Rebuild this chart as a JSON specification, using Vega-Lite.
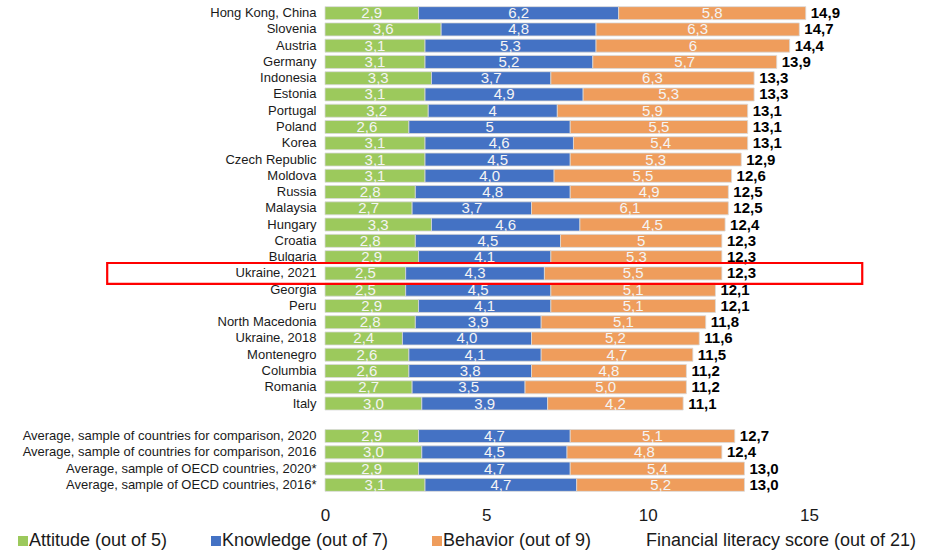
{
  "$schema": "https://vega.github.io/schema/vega-lite/v6.json",
  "width": 484,
  "height": 488,
  "autosize": {"type": "none"},
  "padding": {"left": 325, "top": 5, "right": 125, "bottom": 58},
  "config": {"view": {"stroke": null}, "font": "Liberation Sans"},
  "datasets": {
    "segs": [
      {"c": "Hong Kong, China", "s": "Attitude (out of 5)", "o": 1, "v": 2.9, "t": "2,9"},
      {"c": "Hong Kong, China", "s": "Knowledge (out of 7)", "o": 2, "v": 6.2, "t": "6,2"},
      {"c": "Hong Kong, China", "s": "Behavior (out of 9)", "o": 3, "v": 5.8, "t": "5,8"},
      {"c": "Slovenia", "s": "Attitude (out of 5)", "o": 1, "v": 3.6, "t": "3,6"},
      {"c": "Slovenia", "s": "Knowledge (out of 7)", "o": 2, "v": 4.8, "t": "4,8"},
      {"c": "Slovenia", "s": "Behavior (out of 9)", "o": 3, "v": 6.3, "t": "6,3"},
      {"c": "Austria", "s": "Attitude (out of 5)", "o": 1, "v": 3.1, "t": "3,1"},
      {"c": "Austria", "s": "Knowledge (out of 7)", "o": 2, "v": 5.3, "t": "5,3"},
      {"c": "Austria", "s": "Behavior (out of 9)", "o": 3, "v": 6.0, "t": "6"},
      {"c": "Germany", "s": "Attitude (out of 5)", "o": 1, "v": 3.1, "t": "3,1"},
      {"c": "Germany", "s": "Knowledge (out of 7)", "o": 2, "v": 5.2, "t": "5,2"},
      {"c": "Germany", "s": "Behavior (out of 9)", "o": 3, "v": 5.7, "t": "5,7"},
      {"c": "Indonesia", "s": "Attitude (out of 5)", "o": 1, "v": 3.3, "t": "3,3"},
      {"c": "Indonesia", "s": "Knowledge (out of 7)", "o": 2, "v": 3.7, "t": "3,7"},
      {"c": "Indonesia", "s": "Behavior (out of 9)", "o": 3, "v": 6.3, "t": "6,3"},
      {"c": "Estonia", "s": "Attitude (out of 5)", "o": 1, "v": 3.1, "t": "3,1"},
      {"c": "Estonia", "s": "Knowledge (out of 7)", "o": 2, "v": 4.9, "t": "4,9"},
      {"c": "Estonia", "s": "Behavior (out of 9)", "o": 3, "v": 5.3, "t": "5,3"},
      {"c": "Portugal", "s": "Attitude (out of 5)", "o": 1, "v": 3.2, "t": "3,2"},
      {"c": "Portugal", "s": "Knowledge (out of 7)", "o": 2, "v": 4.0, "t": "4"},
      {"c": "Portugal", "s": "Behavior (out of 9)", "o": 3, "v": 5.9, "t": "5,9"},
      {"c": "Poland", "s": "Attitude (out of 5)", "o": 1, "v": 2.6, "t": "2,6"},
      {"c": "Poland", "s": "Knowledge (out of 7)", "o": 2, "v": 5.0, "t": "5"},
      {"c": "Poland", "s": "Behavior (out of 9)", "o": 3, "v": 5.5, "t": "5,5"},
      {"c": "Korea", "s": "Attitude (out of 5)", "o": 1, "v": 3.1, "t": "3,1"},
      {"c": "Korea", "s": "Knowledge (out of 7)", "o": 2, "v": 4.6, "t": "4,6"},
      {"c": "Korea", "s": "Behavior (out of 9)", "o": 3, "v": 5.4, "t": "5,4"},
      {"c": "Czech Republic", "s": "Attitude (out of 5)", "o": 1, "v": 3.1, "t": "3,1"},
      {"c": "Czech Republic", "s": "Knowledge (out of 7)", "o": 2, "v": 4.5, "t": "4,5"},
      {"c": "Czech Republic", "s": "Behavior (out of 9)", "o": 3, "v": 5.3, "t": "5,3"},
      {"c": "Moldova", "s": "Attitude (out of 5)", "o": 1, "v": 3.1, "t": "3,1"},
      {"c": "Moldova", "s": "Knowledge (out of 7)", "o": 2, "v": 4.0, "t": "4,0"},
      {"c": "Moldova", "s": "Behavior (out of 9)", "o": 3, "v": 5.5, "t": "5,5"},
      {"c": "Russia", "s": "Attitude (out of 5)", "o": 1, "v": 2.8, "t": "2,8"},
      {"c": "Russia", "s": "Knowledge (out of 7)", "o": 2, "v": 4.8, "t": "4,8"},
      {"c": "Russia", "s": "Behavior (out of 9)", "o": 3, "v": 4.9, "t": "4,9"},
      {"c": "Malaysia", "s": "Attitude (out of 5)", "o": 1, "v": 2.7, "t": "2,7"},
      {"c": "Malaysia", "s": "Knowledge (out of 7)", "o": 2, "v": 3.7, "t": "3,7"},
      {"c": "Malaysia", "s": "Behavior (out of 9)", "o": 3, "v": 6.1, "t": "6,1"},
      {"c": "Hungary", "s": "Attitude (out of 5)", "o": 1, "v": 3.3, "t": "3,3"},
      {"c": "Hungary", "s": "Knowledge (out of 7)", "o": 2, "v": 4.6, "t": "4,6"},
      {"c": "Hungary", "s": "Behavior (out of 9)", "o": 3, "v": 4.5, "t": "4,5"},
      {"c": "Croatia", "s": "Attitude (out of 5)", "o": 1, "v": 2.8, "t": "2,8"},
      {"c": "Croatia", "s": "Knowledge (out of 7)", "o": 2, "v": 4.5, "t": "4,5"},
      {"c": "Croatia", "s": "Behavior (out of 9)", "o": 3, "v": 5.0, "t": "5"},
      {"c": "Bulgaria", "s": "Attitude (out of 5)", "o": 1, "v": 2.9, "t": "2,9"},
      {"c": "Bulgaria", "s": "Knowledge (out of 7)", "o": 2, "v": 4.1, "t": "4,1"},
      {"c": "Bulgaria", "s": "Behavior (out of 9)", "o": 3, "v": 5.3, "t": "5,3"},
      {"c": "Ukraine, 2021", "s": "Attitude (out of 5)", "o": 1, "v": 2.5, "t": "2,5"},
      {"c": "Ukraine, 2021", "s": "Knowledge (out of 7)", "o": 2, "v": 4.3, "t": "4,3"},
      {"c": "Ukraine, 2021", "s": "Behavior (out of 9)", "o": 3, "v": 5.5, "t": "5,5"},
      {"c": "Georgia", "s": "Attitude (out of 5)", "o": 1, "v": 2.5, "t": "2,5"},
      {"c": "Georgia", "s": "Knowledge (out of 7)", "o": 2, "v": 4.5, "t": "4,5"},
      {"c": "Georgia", "s": "Behavior (out of 9)", "o": 3, "v": 5.1, "t": "5,1"},
      {"c": "Peru", "s": "Attitude (out of 5)", "o": 1, "v": 2.9, "t": "2,9"},
      {"c": "Peru", "s": "Knowledge (out of 7)", "o": 2, "v": 4.1, "t": "4,1"},
      {"c": "Peru", "s": "Behavior (out of 9)", "o": 3, "v": 5.1, "t": "5,1"},
      {"c": "North Macedonia", "s": "Attitude (out of 5)", "o": 1, "v": 2.8, "t": "2,8"},
      {"c": "North Macedonia", "s": "Knowledge (out of 7)", "o": 2, "v": 3.9, "t": "3,9"},
      {"c": "North Macedonia", "s": "Behavior (out of 9)", "o": 3, "v": 5.1, "t": "5,1"},
      {"c": "Ukraine, 2018", "s": "Attitude (out of 5)", "o": 1, "v": 2.4, "t": "2,4"},
      {"c": "Ukraine, 2018", "s": "Knowledge (out of 7)", "o": 2, "v": 4.0, "t": "4,0"},
      {"c": "Ukraine, 2018", "s": "Behavior (out of 9)", "o": 3, "v": 5.2, "t": "5,2"},
      {"c": "Montenegro", "s": "Attitude (out of 5)", "o": 1, "v": 2.6, "t": "2,6"},
      {"c": "Montenegro", "s": "Knowledge (out of 7)", "o": 2, "v": 4.1, "t": "4,1"},
      {"c": "Montenegro", "s": "Behavior (out of 9)", "o": 3, "v": 4.7, "t": "4,7"},
      {"c": "Columbia", "s": "Attitude (out of 5)", "o": 1, "v": 2.6, "t": "2,6"},
      {"c": "Columbia", "s": "Knowledge (out of 7)", "o": 2, "v": 3.8, "t": "3,8"},
      {"c": "Columbia", "s": "Behavior (out of 9)", "o": 3, "v": 4.8, "t": "4,8"},
      {"c": "Romania", "s": "Attitude (out of 5)", "o": 1, "v": 2.7, "t": "2,7"},
      {"c": "Romania", "s": "Knowledge (out of 7)", "o": 2, "v": 3.5, "t": "3,5"},
      {"c": "Romania", "s": "Behavior (out of 9)", "o": 3, "v": 5.0, "t": "5,0"},
      {"c": "Italy", "s": "Attitude (out of 5)", "o": 1, "v": 3.0, "t": "3,0"},
      {"c": "Italy", "s": "Knowledge (out of 7)", "o": 2, "v": 3.9, "t": "3,9"},
      {"c": "Italy", "s": "Behavior (out of 9)", "o": 3, "v": 4.2, "t": "4,2"},
      {"c": "Average, sample of countries for comparison, 2020", "s": "Attitude (out of 5)", "o": 1, "v": 2.9, "t": "2,9"},
      {"c": "Average, sample of countries for comparison, 2020", "s": "Knowledge (out of 7)", "o": 2, "v": 4.7, "t": "4,7"},
      {"c": "Average, sample of countries for comparison, 2020", "s": "Behavior (out of 9)", "o": 3, "v": 5.1, "t": "5,1"},
      {"c": "Average, sample of countries for comparison, 2016", "s": "Attitude (out of 5)", "o": 1, "v": 3.0, "t": "3,0"},
      {"c": "Average, sample of countries for comparison, 2016", "s": "Knowledge (out of 7)", "o": 2, "v": 4.5, "t": "4,5"},
      {"c": "Average, sample of countries for comparison, 2016", "s": "Behavior (out of 9)", "o": 3, "v": 4.8, "t": "4,8"},
      {"c": "Average, sample of OECD countries, 2020*", "s": "Attitude (out of 5)", "o": 1, "v": 2.9, "t": "2,9"},
      {"c": "Average, sample of OECD countries, 2020*", "s": "Knowledge (out of 7)", "o": 2, "v": 4.7, "t": "4,7"},
      {"c": "Average, sample of OECD countries, 2020*", "s": "Behavior (out of 9)", "o": 3, "v": 5.4, "t": "5,4"},
      {"c": "Average, sample of OECD countries, 2016*", "s": "Attitude (out of 5)", "o": 1, "v": 3.1, "t": "3,1"},
      {"c": "Average, sample of OECD countries, 2016*", "s": "Knowledge (out of 7)", "o": 2, "v": 4.7, "t": "4,7"},
      {"c": "Average, sample of OECD countries, 2016*", "s": "Behavior (out of 9)", "o": 3, "v": 5.2, "t": "5,2"}
    ],
    "totals": [
      {"c": "Hong Kong, China", "v": 14.9, "t": "14,9"},
      {"c": "Slovenia", "v": 14.7, "t": "14,7"},
      {"c": "Austria", "v": 14.4, "t": "14,4"},
      {"c": "Germany", "v": 14.0, "t": "13,9"},
      {"c": "Indonesia", "v": 13.3, "t": "13,3"},
      {"c": "Estonia", "v": 13.3, "t": "13,3"},
      {"c": "Portugal", "v": 13.1, "t": "13,1"},
      {"c": "Poland", "v": 13.1, "t": "13,1"},
      {"c": "Korea", "v": 13.1, "t": "13,1"},
      {"c": "Czech Republic", "v": 12.9, "t": "12,9"},
      {"c": "Moldova", "v": 12.6, "t": "12,6"},
      {"c": "Russia", "v": 12.5, "t": "12,5"},
      {"c": "Malaysia", "v": 12.5, "t": "12,5"},
      {"c": "Hungary", "v": 12.4, "t": "12,4"},
      {"c": "Croatia", "v": 12.3, "t": "12,3"},
      {"c": "Bulgaria", "v": 12.3, "t": "12,3"},
      {"c": "Ukraine, 2021", "v": 12.3, "t": "12,3"},
      {"c": "Georgia", "v": 12.1, "t": "12,1"},
      {"c": "Peru", "v": 12.1, "t": "12,1"},
      {"c": "North Macedonia", "v": 11.8, "t": "11,8"},
      {"c": "Ukraine, 2018", "v": 11.6, "t": "11,6"},
      {"c": "Montenegro", "v": 11.4, "t": "11,5"},
      {"c": "Columbia", "v": 11.2, "t": "11,2"},
      {"c": "Romania", "v": 11.2, "t": "11,2"},
      {"c": "Italy", "v": 11.1, "t": "11,1"},
      {"c": "Average, sample of countries for comparison, 2020", "v": 12.7, "t": "12,7"},
      {"c": "Average, sample of countries for comparison, 2016", "v": 12.3, "t": "12,4"},
      {"c": "Average, sample of OECD countries, 2020*", "v": 13.0, "t": "13,0"},
      {"c": "Average, sample of OECD countries, 2016*", "v": 13.0, "t": "13,0"}
    ]
  },
  "encoding": {
    "y": {
      "field": "c",
      "type": "nominal",
      "title": null,
      "scale": {
        "domain": ["Hong Kong, China", "Slovenia", "Austria", "Germany", "Indonesia", "Estonia", "Portugal", "Poland", "Korea", "Czech Republic", "Moldova", "Russia", "Malaysia", "Hungary", "Croatia", "Bulgaria", "Ukraine, 2021", "Georgia", "Peru", "North Macedonia", "Ukraine, 2018", "Montenegro", "Columbia", "Romania", "Italy", " ", "Average, sample of countries for comparison, 2020", "Average, sample of countries for comparison, 2016", "Average, sample of OECD countries, 2020*", "Average, sample of OECD countries, 2016*"],
        "paddingInner": 0.2,
        "paddingOuter": 0.1
      },
      "axis": {"ticks": false, "domain": false, "labelFontSize": 13, "labelColor": "#1a1a1a", "labelPadding": 9, "labelLimit": 400}
    }
  },
  "layer": [
    {
      "data": {"name": "segs"},
      "mark": {"type": "bar", "stroke": "#d9d9d9", "strokeWidth": 0.8},
      "encoding": {
        "x": {
          "field": "v",
          "type": "quantitative",
          "stack": "zero",
          "title": null,
          "scale": {"domain": [0, 15], "nice": false, "zero": false},
          "axis": {"values": [0, 5, 10, 15], "grid": false, "ticks": false, "domain": false, "labelFontSize": 17, "labelPadding": 14, "labelColor": "#1a1a1a", "labelFlush": false}
        },
        "order": {"field": "o", "type": "quantitative"},
        "color": {
          "field": "s",
          "type": "nominal",
          "scale": {
            "domain": ["Attitude (out of 5)", "Knowledge (out of 7)", "Behavior (out of 9)", "Financial literacy score (out of 21)"],
            "range": ["#9cc95c", "#4472c4", "#ef9d5c", "transparent"]
          },
          "legend": {
            "orient": "none",
            "legendX": -311,
            "legendY": 527,
            "direction": "horizontal",
            "title": null,
            "symbolType": "square",
            "symbolSize": 100,
            "symbolStrokeWidth": 0,
            "labelFontSize": 18,
            "labelColor": "#1a1a1a",
            "labelOffset": -3,
            "columnPadding": 39,
            "labelLimit": 400,
            "padding": 0
          }
        }
      }
    },
    {
      "data": {"name": "segs"},
      "mark": {"type": "text", "color": "#f4f4f4", "fontSize": 15, "baseline": "middle", "align": "center"},
      "encoding": {
        "x": {"field": "v", "type": "quantitative", "stack": "zero", "bandPosition": 0.5},
        "order": {"field": "o", "type": "quantitative"},
        "detail": {"field": "s"},
        "text": {"field": "t"}
      }
    },
    {
      "data": {"name": "totals"},
      "mark": {"type": "text", "color": "#000000", "fontSize": 15, "fontWeight": "bold", "align": "left", "baseline": "middle", "dx": 5},
      "encoding": {
        "x": {"field": "v", "type": "quantitative"},
        "text": {"field": "t"}
      }
    },
    {
      "data": {"values": [{}]},
      "mark": {"type": "bar", "fill": "transparent", "stroke": "#ff0000", "strokeWidth": 2.2, "height": {"band": 1.6}},
      "encoding": {
        "x": {"datum": -6.75, "type": "quantitative"},
        "x2": {"datum": 16.65},
        "y": {"datum": "Ukraine, 2021", "type": "nominal"}
      }
    }
  ]
}
